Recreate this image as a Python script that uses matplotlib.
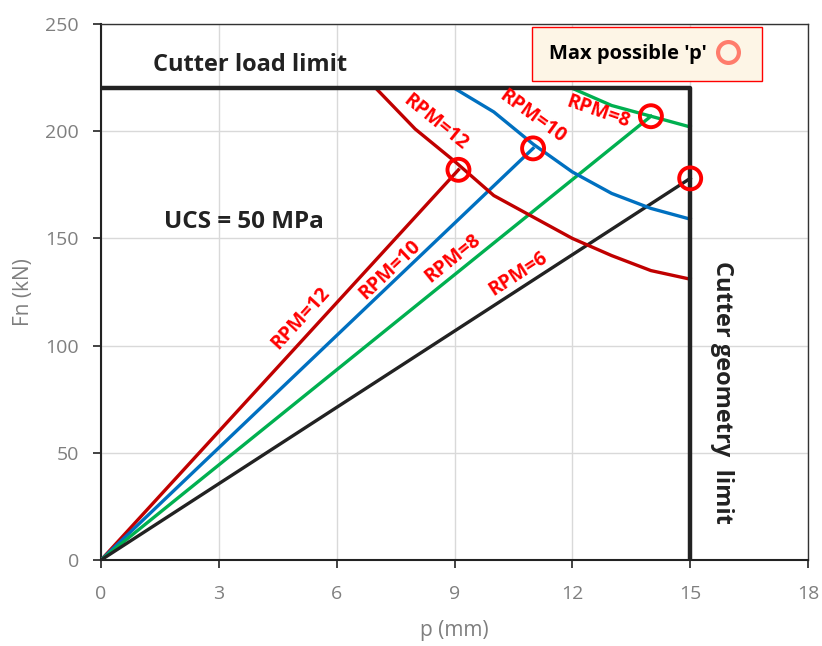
import matplotlib.pyplot as plt
from matplotlib.lines import Line2D

rpm = ["RPM=12", "RPM=10", "RPM=8", "RPM=6"]
colors = ["#C00000", "#0070C0", "#00B050", "#222222"]

# max possible p for each rpm (straight lines from origin end here)
p_max = [9.1, 11.0, 14.0, 15.0]
fn_max = [182, 192, 207, 178]

# thrust-limited curves
p_12 = [7, 8, 9, 10, 11, 12, 13, 14, 15]
fn_12 = [220, 201, 186, 170, 160, 150, 142, 135, 131]
p_10 = [9, 10, 11, 12, 13, 14, 15]
fn_10 = [220, 209, 194, 181, 171, 164, 159]
p_8 = [12, 13, 14, 15]
fn_8 = [220, 212, 207, 202]

load_limit = 220
geom_limit = 15

plt.rcParams['font.family'] = ['Open Sans', 'DejaVu Sans']

fig = plt.figure(figsize=(8.22, 6.46), dpi=100)
ax = fig.add_axes([0.1229, 0.1331, 0.8601, 0.8297])

for i in range(4):
    ax.plot([0, p_max[i]], [0, fn_max[i]], color=colors[i], lw=2.4, zorder=3)
ax.plot(p_12, fn_12, color=colors[0], lw=2.4, zorder=3)
ax.plot(p_10, fn_10, color=colors[1], lw=2.4, zorder=3)
ax.plot(p_8, fn_8, color=colors[2], lw=2.4, zorder=3)

ax.plot([0, geom_limit, geom_limit], [load_limit, load_limit, 0], color="#222222", lw=3.2, zorder=4)

ax.scatter(p_max, fn_max, s=250, facecolors="none", edgecolors="#FF0000", linewidths=2.8, zorder=5)

ax.set_xlim(0, 18)
ax.set_ylim(0, 250)
ax.set_xticks(range(0, 19, 3))
ax.set_yticks(range(0, 251, 50))
ax.grid(True, color="#D9D9D9", lw=1)
ax.set_axisbelow(True)
for s in ["left", "bottom"]:
    ax.spines[s].set_color("#222222")
    ax.spines[s].set_linewidth(1.5)
for s in ["top", "right"]:
    ax.spines[s].set_color("#333333")
    ax.spines[s].set_linewidth(1.0)
ax.tick_params(direction="out", length=6, width=1.2, color="#222222", labelcolor="#7F7F7F", labelsize=14)
ax.tick_params(axis="x", pad=12)
ax.tick_params(axis="y", pad=10)
ax.set_xlabel("p (mm)", color="#7F7F7F", fontsize=15, labelpad=12)
ax.set_ylabel("Fn (kN)", color="#7F7F7F", fontsize=15, labelpad=8)

# labels along straight lines
tk = dict(color="#FF0000", fontsize=14, fontweight="bold", ha="center", va="center", zorder=6)
ax.text(5.08, 113, rpm[0], rotation=47.5, **tk)
ax.text(7.34, 135.5, rpm[1], rotation=43.5, **tk)
ax.text(8.95, 140.5, rpm[2], rotation=39, **tk)
ax.text(10.62, 133.6, rpm[3], rotation=33, **tk)
# labels along curves
ax.text(8.5, 204, rpm[0], rotation=-39, **tk)
ax.text(10.97, 206.6, rpm[1], rotation=-36, **tk)
ax.text(12.65, 209, rpm[2], rotation=-19, **tk)

ax.text(3.8, 230.9, "Cutter load limit", fontsize=17, fontweight="bold", color="#222222", ha="center", va="center")
ax.text(3.63, 157.6, "UCS = 50 MPa", fontsize=17.5, fontweight="bold", color="#222222", ha="center", va="center")
ax.text(15.81, 78, "Cutter geometry  limit", fontsize=17, fontweight="bold", color="#222222",
        rotation=-90, ha="center", va="center")

h = Line2D([], [], ls="none", marker="o", ms=15, mfc="none", mec="#FF7C6C", mew=3)
leg = ax.legend([h], ["Max possible 'p'"], loc="upper right", bbox_to_anchor=(0.935, 0.9944),
                frameon=True, fancybox=False, markerfirst=False, handletextpad=0.2, handlelength=1.7,
                prop={"weight": "bold", "size": 14.5}, borderpad=0.85, borderaxespad=0)
leg.get_frame().set_facecolor("#FDF5E6")
leg.get_frame().set_edgecolor("#FF0000")
leg.get_frame().set_alpha(1)

fig.savefig("out.png", dpi=100)
